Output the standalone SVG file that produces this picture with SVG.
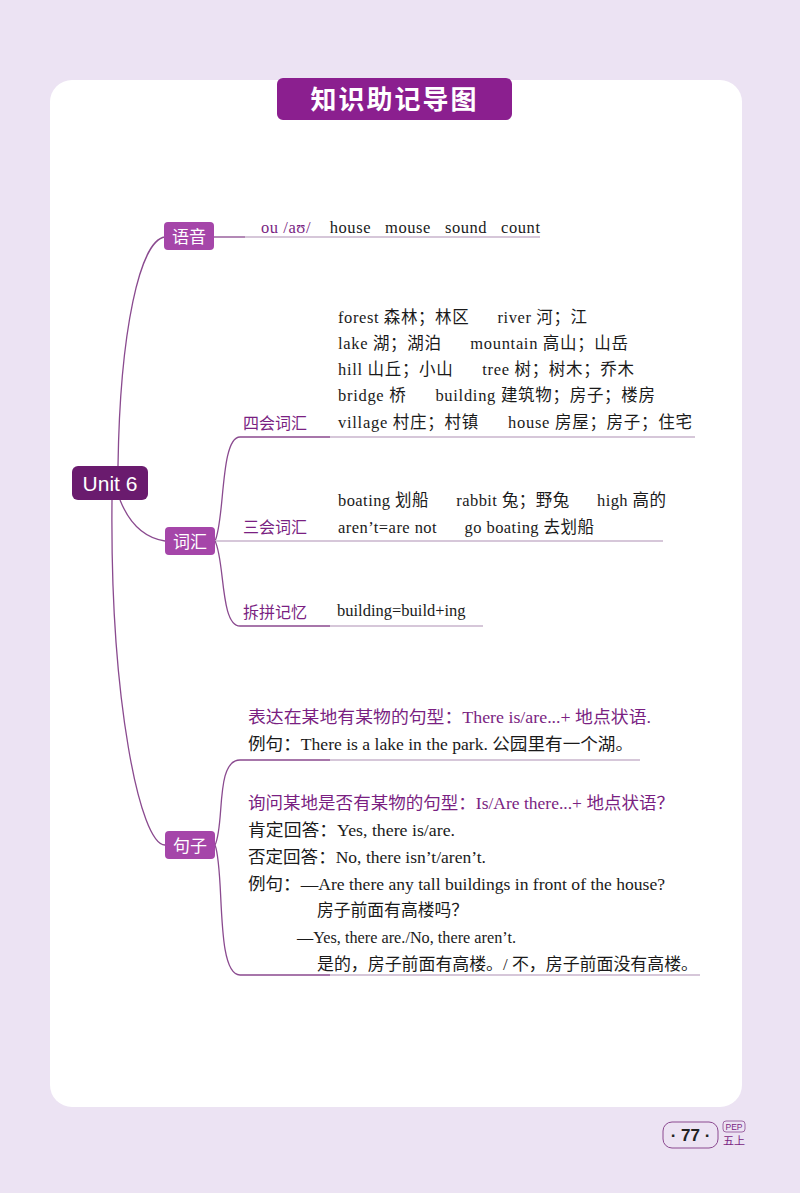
<svg xmlns="http://www.w3.org/2000/svg" width="800" height="1193" viewBox="0 0 800 1193">
<style>
text{white-space:pre}
.cn{font-family:"Noto Sans CJK SC",sans-serif}
.t{font-family:"Liberation Serif","Noto Sans CJK SC",serif;font-size:16.5px;fill:#1a1a1a}
.p{fill:#7a1f82}
.lbl{font-family:"Noto Sans CJK SC",sans-serif;font-size:17px;fill:#fff}
.sub{font-family:"Noto Sans CJK SC",sans-serif;font-size:16px;fill:#7a1f82}
.ln{fill:none;stroke:#8a4a8f;stroke-width:1.3}
.hl{fill:none;stroke:#c9b4cc;stroke-width:1.3}
</style>
<rect width="800" height="1193" fill="#ece3f3"/>
<rect x="50" y="80" width="692" height="1027" rx="22" fill="#fff"/>
<g id="title"><rect x="277" y="78" width="235" height="42" rx="6" fill="#8b1f8f"/>
<text x="394.5" y="109" text-anchor="middle" class="cn" font-size="26" font-weight="bold" fill="#fff" letter-spacing="2">知识助记导图</text></g>
<g id="connectors">
<path class="ln" d="M118 466 C120 330 140 240 165 237"/>
<path class="ln" d="M120 500 C130 525 145 538 165 541"/>
<path class="ln" d="M112 500 C110 700 140 845 165 845"/>
<path class="ln" d="M214 237 H245"/><path class="hl" d="M245 237 H540"/>
<path class="ln" d="M215 541 C225 520 220 437 240 437 H330"/><path class="hl" d="M330 437 H695"/>
<path class="hl" d="M215 541 H663"/>
<path class="ln" d="M215 541 C225 560 220 626 240 626 H330"/><path class="hl" d="M330 626 H483"/>
<path class="ln" d="M215 845 C225 825 215 760 240 760 H330"/><path class="hl" d="M330 760 H640"/>
<path class="ln" d="M215 845 C225 870 215 975 240 975 H330"/><path class="hl" d="M330 975 H700"/>
</g>
<g id="unit6"><rect x="72" y="466" width="76" height="34" rx="6" fill="#6a1b6e"/><text x="110" y="491" text-anchor="middle" font-family="Liberation Sans,sans-serif" font-size="21" fill="#fff">Unit 6</text></g>
<g id="yuyin"><rect x="164" y="222" width="50" height="28" rx="4" fill="#a546a9"/><text x="189" y="243" text-anchor="middle" class="lbl">语音</text>
<text x="261" y="233" class="t" textLength="279" lengthAdjust="spacing"><tspan class="p">ou /aʊ/</tspan>    house   mouse   sound   count</text></g>
<g id="cihui"><rect x="165" y="527" width="50" height="28" rx="4" fill="#a546a9"/><text x="190" y="548" text-anchor="middle" class="lbl">词汇</text></g>
<g id="sihui"><text x="243" y="429" class="sub">四会词汇</text>
<text class="t" x="338" y="323" textLength="249" lengthAdjust="spacing">forest 森林；林区      river 河；江</text>
<text class="t" x="338" y="349" textLength="290" lengthAdjust="spacing">lake 湖；湖泊      mountain 高山；山岳</text>
<text class="t" x="338" y="375" textLength="296" lengthAdjust="spacing">hill 山丘；小山      tree 树；树木；乔木</text>
<text class="t" x="338" y="401" textLength="317" lengthAdjust="spacing">bridge 桥      building 建筑物；房子；楼房</text>
<text class="t" x="338" y="428" textLength="354" lengthAdjust="spacing">village 村庄；村镇      house 房屋；房子；住宅</text></g>
<g id="sanhui"><text x="243" y="533" class="sub">三会词汇</text>
<text class="t" x="338" y="506" textLength="328" lengthAdjust="spacing">boating 划船      rabbit 兔；野兔      high 高的</text>
<text class="t" x="338" y="533" textLength="256" lengthAdjust="spacing">aren’t=are not      go boating 去划船</text></g>
<g id="chaipin"><text x="243" y="618" class="sub">拆拼记忆</text>
<text class="t" x="337" y="616">building=build+ing</text></g>
<g id="juzi"><rect x="165" y="831" width="50" height="28" rx="4" fill="#a546a9"/><text x="190" y="852" text-anchor="middle" class="lbl">句子</text>
<text class="t p" x="248" y="723" textLength="403" lengthAdjust="spacingAndGlyphs">表达在某地有某物的句型：There is/are...+ 地点状语.</text>
<text class="t" x="248" y="750" textLength="385" lengthAdjust="spacingAndGlyphs">例句：There is a lake in the park. 公园里有一个湖。</text>
<text class="t p" x="248" y="809" textLength="426" lengthAdjust="spacingAndGlyphs">询问某地是否有某物的句型：Is/Are there...+ 地点状语？</text>
<text class="t" x="248" y="836" textLength="207" lengthAdjust="spacingAndGlyphs">肯定回答：Yes, there is/are.</text>
<text class="t" x="248" y="863" textLength="238" lengthAdjust="spacingAndGlyphs">否定回答：No, there isn’t/aren’t.</text>
<text class="t" x="248" y="890" textLength="417" lengthAdjust="spacingAndGlyphs">例句：—Are there any tall buildings in front of the house?</text>
<text class="t" x="317" y="916" textLength="151" lengthAdjust="spacingAndGlyphs">房子前面有高楼吗？</text>
<text class="t" x="297" y="943" textLength="219" lengthAdjust="spacingAndGlyphs">—Yes, there are./No, there aren’t.</text>
<text class="t" x="317" y="970" textLength="381" lengthAdjust="spacingAndGlyphs">是的，房子前面有高楼。/ 不，房子前面没有高楼。</text></g>
<g id="page"><rect x="663" y="1122" width="55" height="26" rx="9" fill="none" stroke="#8b4a90"/>
<text x="690.5" y="1141" text-anchor="middle" font-family="Liberation Sans,sans-serif" font-size="17" font-weight="bold" fill="#222">· 77 ·</text>
<rect x="723" y="1121" width="22" height="11" rx="3" fill="none" stroke="#8b4a90" stroke-width="0.8"/>
<text x="734" y="1130" text-anchor="middle" font-family="Liberation Sans,sans-serif" font-size="8.5" fill="#7a1f82">PEP</text>
<text x="734" y="1145" text-anchor="middle" class="cn" font-size="11" fill="#7a1f82">五上</text></g>
</svg>
